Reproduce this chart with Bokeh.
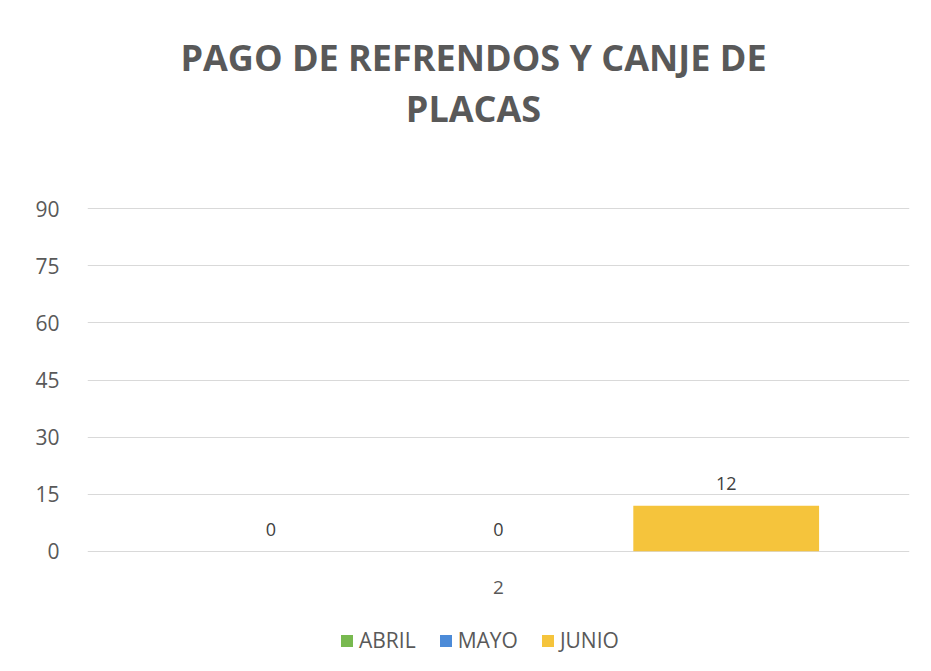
from bokeh.plotting import figure
from bokeh.models import (ColumnDataSource, FactorRange, Range1d, Legend, LegendItem,
                          LabelSet, Label, FixedTicker)
from bokeh.layouts import column
from bokeh.core.properties import value
from bokeh.transform import dodge
from bokeh.embed import file_html
from bokeh.resources import INLINE

title_lines = ["PAGO DE REFRENDOS Y CANJE DE", "PLACAS"]
categories = ["2"]
series = ["ABRIL", "MAYO", "JUNIO"]
abril = [0]
mayo = [0]
junio = [12]
colors = ["#78B94F", "#4C8BD8", "#F5C43C"]
y_ticks = [0, 15, 30, 45, 60, 75, 90]

FONT = "Open Sans"
GRAY = "#595959"
W = 915
LEFT = 87   # frame left edge (column aligns the frames of all three figures)
RIGHT = 6


def blank_fig(h):
    f = figure(width=W, height=h, x_range=Range1d(0, 1), y_range=Range1d(0, 1),
               output_backend="svg", toolbar_location=None,
               x_axis_location=None, y_axis_location=None,
               min_border_left=LEFT, min_border_right=RIGHT, min_border_top=0,
               min_border_bottom=0)
    f.outline_line_color = None
    f.xgrid.grid_line_color = None
    f.ygrid.grid_line_color = None
    return f


# --- header with title ---
HEAD_H = 150
head = blank_fig(HEAD_H)
for txt, yc in zip(title_lines, [57, 108]):
    head.add_layout(Label(x=473 - LEFT, y=HEAD_H - yc, x_units="screen", y_units="screen",
                          text=txt, text_align="center", text_baseline="middle",
                          text_font=FONT, text_font_size="36px", text_font_style="bold",
                          text_color=GRAY))

# --- main chart ---
MAIN_H = 468
p = figure(width=W, height=MAIN_H, x_range=FactorRange(*categories, range_padding=0),
           y_range=Range1d(-0.3, 90.3), output_backend="svg", toolbar_location=None,
           min_border_left=LEFT, min_border_right=RIGHT, min_border_bottom=66,
           min_border_top=57)
p.outline_line_color = None

offsets = [-0.277, 0.0, 0.277]
values = [abril, mayo, junio]
for name, vals, col, off in zip(series, values, colors, offsets):
    src = ColumnDataSource(dict(x=categories, y=vals, lbl=[str(v) for v in vals]))
    p.vbar(x=dodge("x", off, range=p.x_range), top="y", width=0.226, source=src,
           fill_color=col, line_color=None)
    p.add_layout(LabelSet(x=dodge("x", off, range=p.x_range), y="y", text="lbl", source=src,
                          text_align="center", text_baseline="middle", y_offset=22,
                          text_font=value(FONT), text_font_size=value("18px"),
                          text_color=value("#404040")))

p.yaxis.ticker = FixedTicker(ticks=y_ticks)
p.yaxis.axis_line_color = None
p.yaxis.major_tick_line_color = None
p.yaxis.minor_tick_line_color = None
p.yaxis.major_label_text_font = FONT
p.yaxis.major_label_text_font_size = "21px"
p.yaxis.major_label_text_color = GRAY
p.yaxis.major_label_standoff = 22

p.xaxis.axis_line_color = None
p.xaxis.major_tick_line_color = None
p.xaxis.major_label_text_font = FONT
p.xaxis.major_label_text_font_size = "19px"
p.xaxis.major_label_text_color = GRAY
p.xaxis.major_label_standoff = 22

p.xgrid.grid_line_color = None
p.ygrid.grid_line_color = "#D9D9D9"
p.ygrid.grid_line_width = 1

# --- legend strip ---
LEG_H = 45
leg = blank_fig(LEG_H)
items = []
for name, col in zip(series, colors):
    r = leg.vbar(x=[0.5], bottom=[0], top=[0], width=0.01, fill_color=col, line_color=None)
    items.append(LegendItem(label=name, renderers=[r]))
legend = Legend(items=items, orientation="horizontal", location=(339 - LEFT, 9),
                label_text_font=FONT, label_text_font_size="21px", label_text_color=GRAY,
                glyph_width=15, glyph_height=15, spacing=22, label_standoff=5,
                border_line_color=None, background_fill_alpha=0, padding=0, margin=0)
leg.add_layout(legend, "center")

layout = column(head, p, leg, spacing=0)
open("out.html", "w").write(file_html(layout, INLINE))
